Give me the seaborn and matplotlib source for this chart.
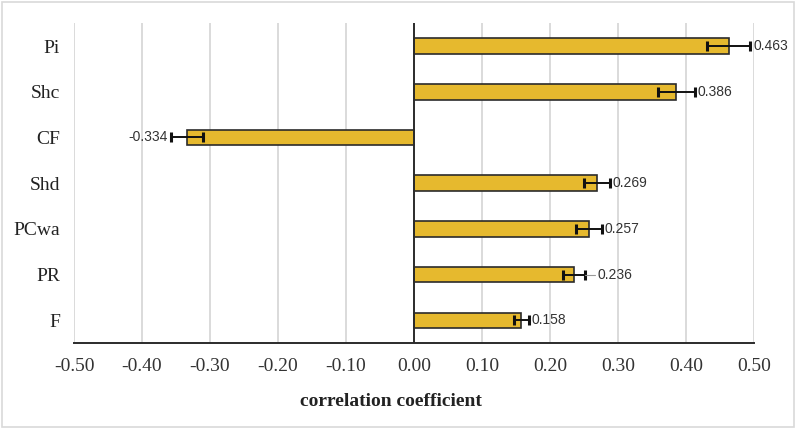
import matplotlib
matplotlib.use("Agg")
import matplotlib.pyplot as plt
import numpy as np
import pandas as pd
import seaborn as sns
from matplotlib.patches import Rectangle

# -----------------------------------------------------------------------------
# Data
# -----------------------------------------------------------------------------
factors = ["Pi", "Shc", "CF", "Shd", "PCwa", "PR", "F"]
coefs = [0.463, 0.386, -0.334, 0.269, 0.257, 0.236, 0.158]
errors = [0.032, 0.027, 0.024, 0.019, 0.019, 0.016, 0.011]
xticks = [-0.5, -0.4, -0.3, -0.2, -0.1, 0.0, 0.1, 0.2, 0.3, 0.4, 0.5]

BAR_COLOR = "#E6B92E"
EDGE_COLOR = "#2b2b2b"
LABEL_FONT = ["Liberation Sans", "DejaVu Sans"]

df = pd.DataFrame({"factor": factors, "coef": coefs, "err": errors})

sns.set_theme(style="white")
plt.rcParams["font.family"] = ["Liberation Serif", "DejaVu Serif"]

fig = plt.figure(figsize=(7.96, 4.29), dpi=100)
ax = fig.add_axes([0.093, 0.200, 0.854, 0.746])

sns.barplot(
    data=df,
    x="coef",
    y="factor",
    order=factors,
    orient="h",
    color=BAR_COLOR,
    edgecolor=EDGE_COLOR,
    linewidth=1.2,
    width=0.34,
    saturation=1,
    errorbar=None,
    ax=ax,
    zorder=3,
)

ypos = np.arange(len(factors))
ax.errorbar(
    df["coef"], ypos, xerr=df["err"], fmt="none",
    ecolor="#111111", elinewidth=1.4, capsize=3.5, capthick=2.2, zorder=4,
)

# value labels (PR label sits a bit further out with a leader line, as in the source)
for name, y, v, e in zip(df["factor"], ypos, df["coef"], df["err"]):
    if v >= 0:
        gap = 0.004
        if name == "PR":
            gap = 0.018
            ax.plot([v + e, v + e + gap - 0.003], [y, y], color="#999999",
                    linewidth=0.8, zorder=4)
        ax.text(v + e + gap, y, f"{v:.3f}", ha="left", va="center",
                fontsize=10, color="#333333", family=LABEL_FONT)
    else:
        ax.text(v - e - 0.004, y, f"{v:.3f}", ha="right", va="center",
                fontsize=10, color="#333333", family=LABEL_FONT)

ax.set_xlim(-0.5, 0.5)
ax.set_ylim(6.5, -0.5)
ax.set_xticks(xticks)
ax.set_xticklabels([f"{t:.2f}" for t in xticks], fontsize=14, color="#333333")
ax.tick_params(axis="y", labelsize=14, colors="#222222", length=0, pad=10)
ax.tick_params(axis="x", length=0, pad=11)

for t in xticks:
    if t != 0:
        ax.axvline(t, color="#d4d4d4", linewidth=1.2, zorder=0)
ax.axvline(0, color="#2b2b2b", linewidth=1.4, zorder=5)

for side in ["top", "right", "left"]:
    ax.spines[side].set_visible(False)
ax.spines["bottom"].set_color("#2b2b2b")
ax.spines["bottom"].set_linewidth(1.4)

ax.set_ylabel("")
ax.set_xlabel("correlation coefficient", fontsize=14, fontweight="bold",
              color="#222222")
ax.xaxis.set_label_coords(0.466, -0.155)

# light frame around the whole chart area
fig.patches.append(Rectangle((0.003, 0.005), 0.994, 0.99, transform=fig.transFigure,
                             fill=False, edgecolor="#d9d9d9", linewidth=1.2))

fig.savefig("out.png", dpi=100, facecolor="white")
